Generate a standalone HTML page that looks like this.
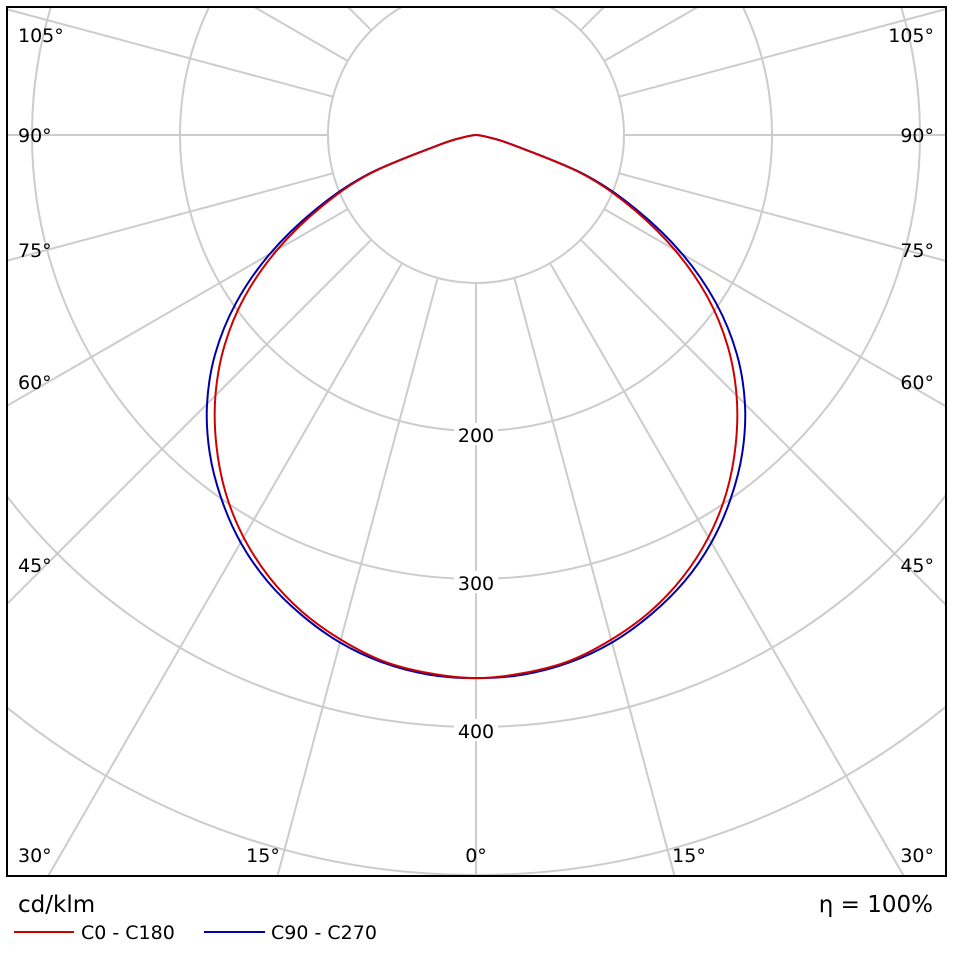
<!DOCTYPE html>
<html><head><meta charset="utf-8"><style>
html,body{margin:0;padding:0;background:#fff;overflow:hidden;width:953px;height:953px}
svg{display:block}
svg text{font-family:"DejaVu Sans","Liberation Sans",sans-serif}
</style></head><body>
<svg width="953" height="953" viewBox="0 0 953 953">
<defs><clipPath id="clip"><rect x="7" y="7" width="939" height="869"/></clipPath></defs>
<rect x="0" y="0" width="953" height="953" fill="#fff"/>
<g id="grid" clip-path="url(#clip)"></g>
<g id="curves" clip-path="url(#clip)"></g>
<g id="labels"></g>
<rect x="7" y="7" width="939" height="869" fill="none" stroke="#000" stroke-width="2"/>
<text x="18" y="912" font-size="23">cd/klm</text>
<text x="933" y="912" font-size="23" text-anchor="end">η = 100%</text>
<line x1="14" y1="932" x2="74" y2="932" stroke="#cc0000" stroke-width="2"/>
<text x="81" y="939" font-size="19">C0 - C180</text>
<line x1="204" y1="932" x2="265" y2="932" stroke="#0000aa" stroke-width="2"/>
<text x="271" y="939" font-size="19">C90 - C270</text>
</svg>
<script>
const angles=[0,5,10,15,20,25,30,35,40,45,50,55,60,65,70,75,80,85,90];
const c0Values=[367,365,361,353,343,330,314,295,273,249,222,191,155,116,76,25,8,2,0];
const c90Values=[367,366,362,355,345,333,318,300,280,257,230,198,161,120,78,26,8,2,0];
const ringValues=[100,200,300,400,500];
const ringLabels=["200","300","400"];
const angleTickLabels=["0°","15°","30°","45°","60°","75°","90°","105°"];
const CX=476,CY=135,K=1.48;
const NS="http://www.w3.org/2000/svg";
function rScale(v){return v*K;}
function pt(deg,v){const a=deg*Math.PI/180;return [CX+rScale(v)*Math.sin(a),CY+rScale(v)*Math.cos(a)];}
function mk(tag,attrs,parent){const e=document.createElementNS(NS,tag);for(const k in attrs)e.setAttribute(k,attrs[k]);parent.appendChild(e);return e;}
const grid=document.getElementById('grid');
ringValues.forEach(v=>{
  const c=mk('circle',{cx:CX,cy:CY,r:rScale(v),fill:'none',stroke:'#cccccc','stroke-width':2},grid);
  
  
});
for(let d=0;d<360;d+=15){
  const p1=pt(d,100),p2=pt(d,1000);
  const l=mk('line',{x1:p1[0],y1:p1[1],x2:p2[0],y2:p2[1],stroke:'#cccccc','stroke-width':2},grid);
  
  
}
const curves=document.getElementById('curves');
function smoothPath(pts){
  let d='M'+pts[0][0]+','+pts[0][1];
  for(let i=0;i<pts.length-1;i++){
    const p0=pts[Math.max(0,i-1)],p1=pts[i],p2=pts[i+1],p3=pts[Math.min(pts.length-1,i+2)];
    const c1=[p1[0]+(p2[0]-p0[0])/6,p1[1]+(p2[1]-p0[1])/6];
    const c2=[p2[0]-(p3[0]-p1[0])/6,p2[1]-(p3[1]-p1[1])/6];
    d+=' C'+c1.join(',')+' '+c2.join(',')+' '+p2.join(',');
  }
  return d;
}
function curve(vals,color,name){
  let pts=[];
  for(let i=angles.length-1;i>=0;i--)pts.push(pt(-angles[i],vals[i]));
  for(let i=1;i<angles.length;i++)pts.push(pt(angles[i],vals[i]));
  const p=mk('path',{d:smoothPath(pts),fill:'none',stroke:color,'stroke-width':2,'stroke-linejoin':'round'},curves);
  
  
}
curve(c90Values,'#0000aa','curve-c90-c270');
curve(c0Values,'#cc0000','curve-c0-c180');
const labels=document.getElementById('labels');
ringLabels.forEach(s=>{
  const v=+s,y=CY+rScale(v)+4;
  const r=mk('rect',{x:CX-22,y:y-12,width:44,height:22,fill:'#fff'},labels);
  
  
  const t=mk('text',{x:CX,y:y+7,'font-size':19,'text-anchor':'middle'},labels);
  t.textContent=s;
  
  
});
const sideY={"30°":862,"45°":572,"60°":389,"75°":257,"90°":142,"105°":42};
angleTickLabels.forEach(s=>{
  if(s==="0°"){const t=mk('text',{x:CX,y:862,'font-size':19,'text-anchor':'middle'},labels);t.textContent=s;
    
    return;}
  if(s==="15°"){
    [[263,'middle'],[689,'middle']].forEach(([x,a],i)=>{const t=mk('text',{x:x,y:862,'font-size':19,'text-anchor':a},labels);t.textContent=s;
      
      });
    return;}
  const y=sideY[s];
  const t1=mk('text',{x:18,y:y,'font-size':19},labels);t1.textContent=s;
  
  
  const t2=mk('text',{x:934,y:y,'font-size':19,'text-anchor':'end'},labels);t2.textContent=s;
  
  
});
</script>
</body></html>
